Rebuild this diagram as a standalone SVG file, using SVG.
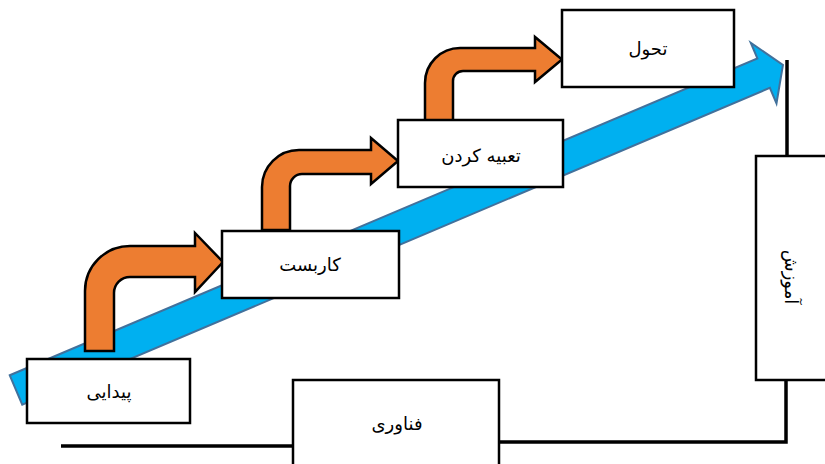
<svg xmlns="http://www.w3.org/2000/svg" width="825" height="464" viewBox="0 0 825 464">
<style>
.box{fill:#fff;stroke:#000;stroke-width:2.5}
.lbl{font-family:"DejaVu Sans","Noto Sans",sans-serif;font-size:18px;fill:#000;text-anchor:middle}
.bent{fill:#ED7D31;stroke:#000;stroke-width:2.5;stroke-linejoin:miter}
.conn{fill:none;stroke:#000;stroke-width:3.5}
</style>
<rect width="825" height="464" fill="#fff"/>
<g id="progress-arrow">
<path transform="translate(16,390) rotate(-22.97)" d="M0,-16 L812,-16 L812,-33 L833,0 L812,33 L812,16 L0,16 Z" fill="#00B0F0" stroke="#41719C" stroke-width="2"/>
</g>
<g id="connectors">
<path class="conn" d="M61,446 H293"/>
<path class="conn" d="M499,442 H786 V380"/>
<path class="conn" d="M787,156 V60"/>
<path class="bent" d="M85,351 V291 A45,45 0 0 1 130,246 H195 V233 L223,262 L195,292 V277 H130 A16,16 0 0 0 114,293 V351 Z"/>
<path class="bent" d="M262,230 V187 A37,37 0 0 1 299,150 H371 V138 L398,161 L371,184 V174 H302 A12,12 0 0 0 290,186 V230 Z"/>
<path class="bent" d="M425,122 V83 A35,35 0 0 1 460,48 H535 V37 L562,59.5 L535,82 V71 H463 A10,10 0 0 0 453,81 V122 Z"/>
</g>
<g id="node-peydayi">
<rect class="box" x="27" y="359" width="163" height="64"/>
<text class="lbl" x="109" y="398" direction="rtl">پیدایی</text>
</g>
<g id="node-karbast">
<rect class="box" x="222" y="231" width="177" height="67"/>
<text class="lbl" x="310" y="271" direction="rtl">کاربست</text>
</g>
<g id="node-tabie">
<rect class="box" x="398" y="120" width="165" height="67"/>
<text class="lbl" x="481" y="162" direction="rtl">تعبیه کردن</text>
</g>
<g id="node-tahavol">
<rect class="box" x="562" y="10" width="172" height="77"/>
<text class="lbl" x="648" y="55" direction="rtl">تحول</text>
</g>
<g id="node-amoozesh">
<rect class="box" x="756" y="156" width="72" height="224"/>
<text class="lbl" transform="translate(785,277) rotate(90)" x="0" y="0" direction="rtl">آموزش</text>
</g>
<g id="node-fanavari">
<rect class="box" x="293" y="380" width="206" height="90"/>
<text class="lbl" x="397" y="430" direction="rtl">فناوری</text>
</g>
</svg>
